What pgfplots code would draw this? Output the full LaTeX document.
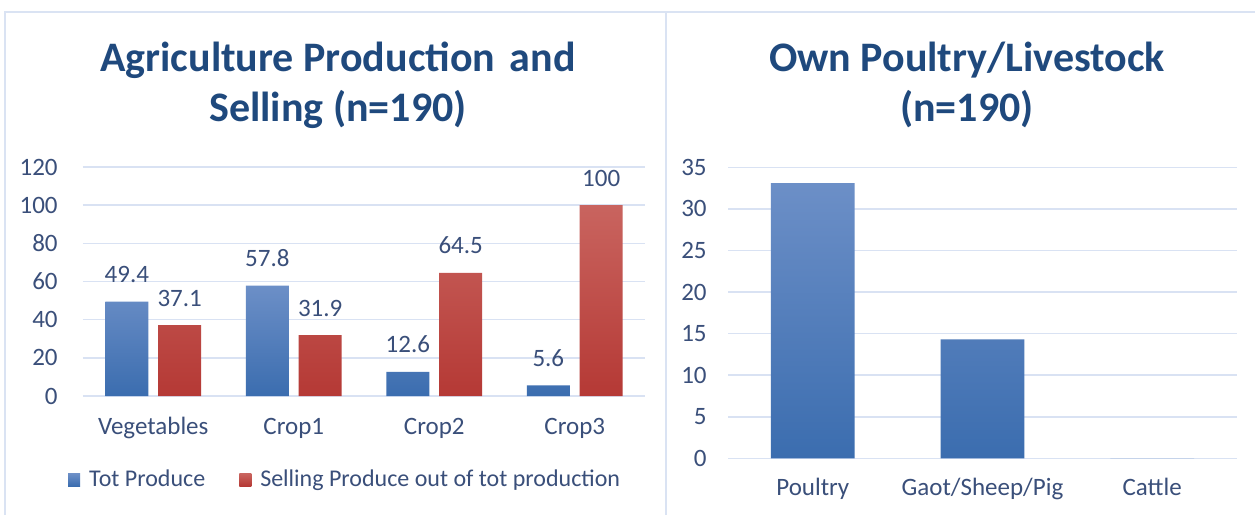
\documentclass[border=0pt]{standalone}
\usepackage{fontspec}
\setmainfont{Carlito}
\usepackage{pgfplots}
\pgfplotsset{compat=1.18}

\definecolor{titleblue}{HTML}{1F497D}
\definecolor{labelblue}{HTML}{3A4F7A}
\definecolor{gridblue}{HTML}{D9E2F3}
\definecolor{frameblue}{HTML}{DAE3F3}
\definecolor{bluetop}{HTML}{6C8FC7}
\definecolor{bluebot}{HTML}{3B6DAF}
\definecolor{redtop}{HTML}{C9645F}
\definecolor{redbot}{HTML}{B53935}

\pgfplotsset{
  excelbars/.style={
    scale only axis,
    axis line style={draw=none},
    major tick length=0pt,
    ymajorgrids,
    grid style={gridblue, line width=0.8pt},
    ymin=0,
    ybar,
    tick label style={font=\fontsize{12.5}{14}\selectfont, text=labelblue},
    /pgf/number format/assume math mode=true,
    xticklabel style={anchor=base, inner sep=0pt},
    yticklabel style={anchor=east, inner sep=0pt},
  },
  sq legend/.style={legend image code/.code={\fill[##1] (0pt,-3pt) rectangle (6pt,3.2pt);}},
}

\begin{document}
\begin{tikzpicture}
\path[use as bounding box, fill=white] (0,0) rectangle (627.5pt,257.5pt);
% panel frames
\draw[frameblue, line width=1pt] (2.5pt,0) -- (2.5pt,251.5pt) -- (627.5pt,251.5pt);
\draw[frameblue, line width=1pt] (333pt,0) -- (333pt,251.5pt);

% titles
\node[align=center, text=titleblue, font=\bfseries\fontsize{21}{25}\selectfont] at (169pt,215pt)
  {Agriculture Production\hspace{0.12em} and\\Selling (n=190)};
\node[align=center, text=titleblue, font=\bfseries\fontsize{21}{25}\selectfont] at (483.5pt,215pt)
  {Own Poultry/Livestock\\(n=190)};

% left chart
\begin{axis}[
  excelbars,
  at={(41.5pt,59.5pt)}, anchor=south west,
  width=281pt, height=114.5pt,
  xmin=-0.5, xmax=3.5, ymax=120,
  ytick={0,20,...,120},
  xtick={0,1,2,3},
  xticklabels={Vegetables,Crop1,Crop2,Crop3},
  xticklabel style={yshift=-19pt},
  yticklabel style={xshift=-12.5pt},
  bar width=0.306,
  nodes near coords,
  every node near coord/.append style={font=\fontsize{12.5}{14}\selectfont, text=labelblue, anchor=base, inner sep=0pt, yshift=9.5pt},
  legend style={at={(-0.027,-0.367)}, anchor=west, draw=none, fill=none, inner sep=0pt,
    nodes={inner sep=0pt},
    legend columns=-1, font=\fontsize{12}{14}\selectfont, text=labelblue,
    /tikz/every odd column/.append style={column sep=4.5pt},
    /tikz/every even column/.append style={column sep=17pt}},
  legend cell align=left,
]
\addplot[bar shift=-0.188, top color=bluetop, bottom color=bluebot, draw=none, sq legend]
  coordinates {(0,49.4) (1,57.8) (2,12.6) (3,5.6)};
\addlegendentry{Tot Produce}
\addplot[bar shift=0.188, top color=redtop, bottom color=redbot, draw=none, sq legend]
  coordinates {(0,37.1) (1,31.9) (2,64.5) (3,100)};
\addlegendentry{Selling Produce out of tot production}
\end{axis}

% right chart
\begin{axis}[
  excelbars,
  at={(364pt,28.35pt)}, anchor=south west,
  width=254.5pt, height=145.5pt,
  xmin=-0.5, xmax=2.5, ymax=35,
  ytick={0,5,...,35},
  xtick={0,1,2},
  xticklabels={Poultry,Gaot/Sheep/Pig,Cattle},
  xticklabel style={yshift=-18.5pt},
  yticklabel style={xshift=-10.5pt},
  bar width=0.494,
]
\addplot[bar shift=0, top color=bluetop, bottom color=bluebot, draw=none]
  coordinates {(0,33.1) (1,14.3) (2,0)};
\end{axis}
\end{tikzpicture}
\end{document}
